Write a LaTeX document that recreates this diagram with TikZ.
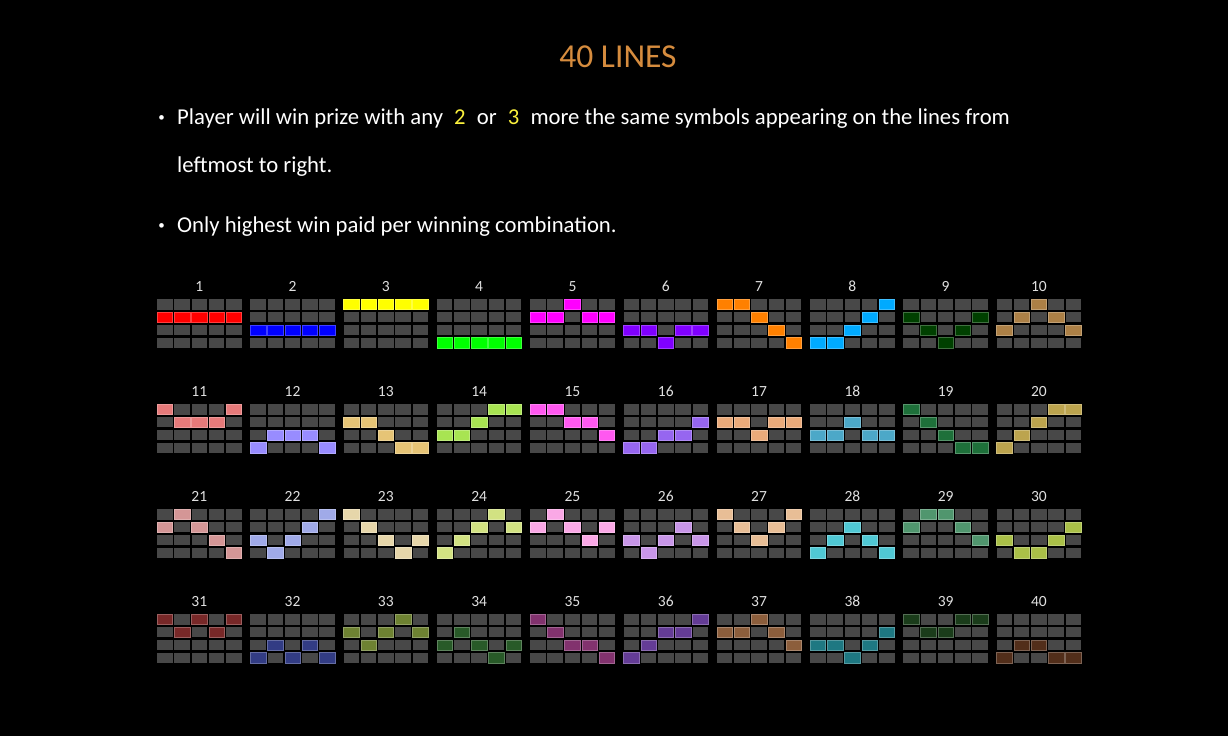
\documentclass[tikz,border=0pt]{standalone}
\usepackage{fontspec}
\setmainfont{Carlito}
\usetikzlibrary{positioning}
\definecolor{cellgray}{RGB}{72,72,72}
\definecolor{titleorange}{RGB}{214,140,62}
\definecolor{numyellow}{RGB}{250,240,60}

\begin{document}
\begin{tikzpicture}[x=1pt,y=-1pt,
                    node distance=6pt]
  \tikzset{hit/.style={fill=linecol,draw=linecol!75!white,line width=0.5pt},
           num/.style={text=black!12,font=\fontsize{15.5}{15.5}\selectfont,inner sep=0pt,anchor=base},
           body/.style={text=white,font=\fontsize{22.7}{22.7}\selectfont,anchor=base west,inner sep=0pt},
           dot/.style={text=white,font=\fontsize{13}{13}\selectfont,inner sep=0pt}}

  \fill[black] (0,0) rectangle (1228,736);

  \node[text=titleorange,font=\fontsize{33.5}{33.5}\selectfont,anchor=base,inner sep=0pt] (title) at (618,67) {40 LINES};

  % rules
  \node[body] (rule1) at (177,124) {Player will win prize with any\hspace{6pt} {\color{numyellow}2}\hspace{6pt} or\hspace{6pt} {\color{numyellow}3}\hspace{6pt} more the same symbols appearing on the lines from};
  \node[body] (rule1b) at (177,172) {leftmost to right.};
  \node[body] (rule2) at (177,232) {Only highest win paid per winning combination.};
  \node[dot] (b1) [left=12pt of rule1.west] {•};
  \node[dot] (b2) [left=12pt of rule2.west] {•};

  % the 40 lines: number / colour / row of each reel
  \foreach \n/\rgb/\pat in {
      1/{255,0,0}/{1,1,1,1,1},       2/{0,0,255}/{2,2,2,2,2},
      3/{255,255,0}/{0,0,0,0,0},     4/{0,255,0}/{3,3,3,3,3},
      5/{255,0,255}/{1,1,0,1,1},     6/{128,0,255}/{2,2,3,2,2},
      7/{255,128,0}/{0,0,1,2,3},     8/{0,170,255}/{3,3,2,1,0},
      9/{0,64,0}/{1,2,3,2,1},        10/{172,128,70}/{2,1,0,1,2},
      11/{230,122,122}/{0,1,1,1,0},  12/{152,140,255}/{3,2,2,2,3},
      13/{230,196,118}/{1,1,2,3,3},  14/{168,228,82}/{2,2,1,0,0},
      15/{255,88,240}/{0,0,1,1,2},   16/{150,102,240}/{3,3,2,2,1},
      17/{234,170,122}/{1,1,2,1,1},  18/{76,168,200}/{2,2,1,2,2},
      19/{30,112,58}/{0,1,2,3,3},    20/{188,164,78}/{3,2,1,0,0},
      21/{212,150,150}/{1,0,1,2,3},  22/{160,170,232}/{2,3,2,1,0},
      23/{230,214,170}/{0,1,2,3,2},  24/{210,226,130}/{3,2,1,0,1},
      25/{250,168,230}/{1,0,1,2,1},  26/{200,150,232}/{2,3,2,1,2},
      27/{232,190,150}/{0,1,2,1,0},  28/{80,200,212}/{3,2,1,2,3},
      29/{80,150,110}/{1,0,0,1,2},   30/{170,192,72}/{2,3,3,2,1},
      31/{120,40,40}/{0,1,0,1,0},    32/{50,60,132}/{3,2,3,2,3},
      33/{110,130,50}/{1,2,1,0,1},   34/{40,90,40}/{2,1,2,3,2},
      35/{130,50,110}/{0,1,2,2,3},   36/{100,60,150}/{3,2,1,1,0},
      37/{140,94,60}/{1,1,0,1,2},    38/{30,120,130}/{2,2,3,2,1},
      39/{26,60,26}/{0,1,1,0,0},     40/{82,46,26}/{3,2,2,3,3}} {
    \pgfmathtruncatemacro{\gx}{mod(\n-1,10)}
    \pgfmathtruncatemacro{\gy}{div(\n-1,10)}
    \definecolor{linecol}{RGB}{\rgb}
    \begin{scope}[shift={(157+93.3*\gx,299+105*\gy)}]
      \node[num] (n\n) at (42.25,-8) {\n};
      \foreach \r [count=\c from 0] in \pat {
        \foreach \k in {0,...,3}
          \fill[cellgray] (17.25*\c,12.9*\k) rectangle +(15.5,10.5);
        \filldraw[hit] (17.25*\c,12.9*\r) rectangle +(15.5,10.5);
      }
    \end{scope}
  }
\end{tikzpicture}
\end{document}
